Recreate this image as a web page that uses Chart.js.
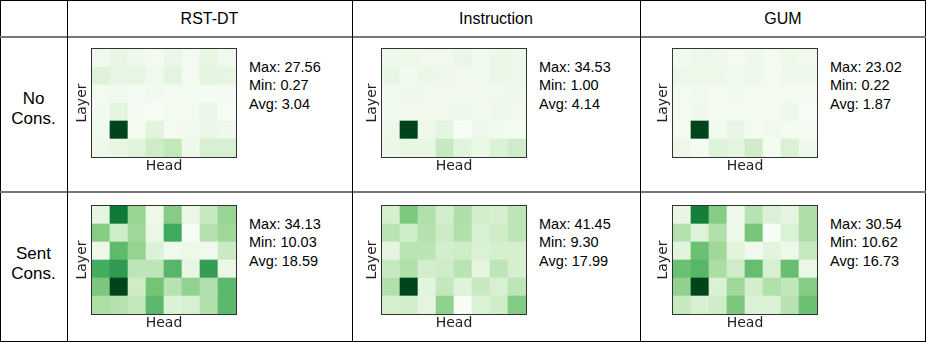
<!DOCTYPE html>
<html>
<head>
<meta charset="utf-8">
<script src="https://cdn.jsdelivr.net/npm/chart.js@4.4.1/dist/chart.umd.min.js"></script>
<style>
  body { margin: 0; background: #fff; font-family: "Liberation Sans", Arial, sans-serif; color: #000; }
  #page { position: relative; width: 927px; height: 343px; overflow: hidden; }
  .hline { position: absolute; left: 0; width: 926px; height: 2px; background: #777; }
  .vline { position: absolute; top: 0; width: 1px; height: 342px; background: #000; }
  .colhead { position: absolute; top: 9px; font-size: 16px; line-height: 20px; text-align: center; }
  .rowhead { position: absolute; left: 0; width: 67px; font-size: 17px; line-height: 20px; text-align: center; }
  .stats { position: absolute; font-size: 14.5px; line-height: 18.3px; white-space: pre; }
  canvas { position: absolute; }
</style>
</head>
<body>
<div id="page"></div>
<script>
// table labels
const columns = ['RST-DT', 'Instruction', 'GUM'];
const rowsTop = ['No', 'Sent'];

const heads = ['1', '2', '3', '4', '5', '6', '7', '8'];
const layers = ['1', '2', '3', '4', '5', '6'];

// stats shown next to each map
const noConsMax = ['27.56', '34.53', '23.02'];
const noConsMin = ['0.27', '1.00', '0.22'];
const noConsAvg = ['3.04', '4.14', '1.87'];
const sentConsMax = ['34.13', '41.45', '30.54'];
const sentConsMin = ['10.03', '9.30', '10.62'];
const sentConsAvg = ['18.59', '17.99', '16.73'];

// attention maps, top layer row first
const rstNoCons = [
  [1.6, 3.0, 1.9, 1.1, 2.5, 1.1, 3.3, 1.6],
  [4.6, 3.3, 3.3, 1.6, 3.8, 1.1, 3.8, 3.3],
  [1.1, 1.6, 0.8, 1.4, 1.1, 0.8, 0.8, 0.8],
  [1.4, 3.8, 0.8, 0.27, 1.1, 1.1, 2.7, 0.5],
  [1.6, 27.56, 1.1, 4.1, 1.1, 1.6, 2.5, 1.9],
  [2.2, 3.0, 4.1, 6.3, 7.6, 1.9, 5.2, 5.2]
];
const instrNoCons = [
  [3.0, 3.3, 2.7, 2.7, 4.0, 2.3, 3.7, 3.3],
  [4.4, 2.3, 3.7, 3.0, 2.7, 2.3, 3.7, 3.3],
  [2.3, 3.0, 2.7, 2.7, 2.7, 2.7, 2.7, 3.0],
  [2.3, 2.7, 2.7, 2.7, 3.0, 2.7, 3.3, 2.7],
  [3.3, 34.53, 3.0, 5.0, 1.0, 3.0, 2.3, 1.7],
  [3.7, 4.4, 4.4, 9.4, 5.7, 3.7, 6.4, 8.4]
];
const gumNoCons = [
  [1.1, 2.0, 1.6, 0.9, 1.8, 0.9, 1.8, 1.4],
  [2.0, 1.8, 1.8, 1.4, 1.8, 0.9, 1.6, 1.6],
  [0.9, 1.1, 0.9, 1.1, 0.9, 0.9, 0.7, 0.7],
  [0.9, 1.6, 0.9, 0.7, 0.9, 0.9, 1.8, 0.22],
  [0.7, 23.02, 1.1, 2.5, 0.9, 1.1, 0.9, 0.9],
  [1.8, 0.7, 3.6, 3.2, 5.2, 0.7, 4.1, 1.6]
];
const rstSentCons = [
  [12.9, 29.8, 19.7, 11.7, 20.9, 12.2, 16.1, 19.7],
  [20.9, 15.3, 19.2, 12.2, 25.2, 10.03, 17.5, 19.2],
  [11.7, 23.3, 19.9, 13.9, 11.2, 11.9, 11.2, 15.8],
  [25.0, 26.7, 16.8, 16.8, 23.8, 12.4, 26.4, 12.2],
  [21.6, 34.13, 15.3, 22.1, 17.3, 20.1, 17.7, 23.5],
  [18.2, 17.5, 16.3, 23.5, 13.9, 14.4, 17.7, 23.5]
];
const instrSentCons = [
  [15.4, 24.7, 19.6, 15.7, 19.9, 15.7, 15.4, 18.3],
  [18.6, 16.4, 19.3, 16.7, 19.6, 15.1, 16.4, 18.3],
  [13.2, 18.6, 18.6, 15.7, 16.4, 14.8, 15.4, 15.4],
  [17.3, 19.6, 15.7, 16.4, 18.9, 13.5, 18.3, 15.4],
  [19.6, 41.45, 13.8, 17.7, 14.1, 17.3, 15.1, 18.3],
  [15.4, 15.7, 13.5, 22.8, 9.30, 14.8, 16.1, 24.1]
];
const gumSentCons = [
  [12.6, 26.6, 19.6, 12.0, 16.6, 14.0, 13.0, 17.2],
  [16.8, 13.8, 17.0, 12.2, 20.4, 10.62, 14.0, 17.2],
  [13.4, 21.0, 18.2, 13.4, 11.6, 13.4, 12.2, 15.6],
  [21.0, 22.0, 17.4, 15.0, 21.2, 14.2, 21.2, 12.4],
  [19.0, 30.54, 14.0, 18.2, 14.6, 17.0, 16.0, 19.6],
  [15.6, 14.2, 15.0, 20.2, 14.0, 14.0, 16.6, 21.0]
];

// matplotlib "Greens"
const greenStops = [
  [247, 252, 245], [229, 245, 224], [199, 233, 192], [161, 217, 155], [116, 196, 118],
  [65, 171, 93], [35, 139, 69], [0, 109, 44], [0, 68, 27]
];
function greens(t) {
  t = Math.max(0, Math.min(1, t));
  const p = t * (greenStops.length - 1);
  const i = Math.min(Math.floor(p), greenStops.length - 2);
  const f = p - i;
  const a = greenStops[i], b = greenStops[i + 1];
  const c = a.map((v, k) => Math.round(v + (b[k] - v) * f));
  return 'rgb(' + c.join(',') + ')';
}

const page = document.getElementById('page');
function addDiv(cls, css, text) {
  const d = document.createElement('div');
  d.className = cls;
  Object.assign(d.style, css);
  if (text !== undefined) d.textContent = text;
  page.appendChild(d);
  return d;
}

// table frame
addDiv('', { position: 'absolute', left: '0px', top: '0px', width: '926px', height: '342px', boxSizing: 'border-box', border: '1px solid #000' });
addDiv('hline', { top: '36px' });
addDiv('hline', { top: '191px' });
[67, 352, 640].forEach(x => addDiv('vline', { left: x + 'px' }));

const colSpans = [[67, 352], [352, 640], [640, 926]];
columns.forEach((c, i) => {
  addDiv('colhead', { left: colSpans[i][0] + 'px', width: (colSpans[i][1] - colSpans[i][0]) + 'px' }, c);
});
addDiv('rowhead', { top: '89px' }).innerHTML = rowsTop[0] + '<br>Cons.';
addDiv('rowhead', { top: '244px' }).innerHTML = rowsTop[1] + '<br>Cons.';

const frame = {
  id: 'frame',
  afterDraw(chart) {
    const a = chart.chartArea;
    const ctx = chart.ctx;
    ctx.save();
    ctx.strokeStyle = '#333';
    ctx.lineWidth = 1;
    ctx.strokeRect(Math.round(a.left) - 0.5, Math.round(a.top) - 0.5, Math.round(a.right - a.left) + 1, Math.round(a.bottom - a.top) + 1);
    ctx.restore();
  }
};

function heatmap(left, top, grid) {
  const flat = grid.flat();
  const lo = Math.min(...flat), hi = Math.max(...flat);
  const cv = document.createElement('canvas');
  cv.width = 163; cv.height = 127;
  cv.style.left = (left - 18) + 'px';
  cv.style.top = (top - 1) + 'px';
  cv.style.width = '163px'; cv.style.height = '127px';
  page.appendChild(cv);
  const datasets = layers.map((_, i) => {
    const row = grid[layers.length - 1 - i];
    return {
      data: heads.map(() => 1),
      backgroundColor: row.map(v => greens((v - lo) / (hi - lo))),
      borderWidth: 0,
      barPercentage: 1,
      categoryPercentage: 1
    };
  });
  new Chart(cv.getContext('2d'), {
    type: 'bar',
    data: { labels: heads, datasets: datasets },
    options: {
      responsive: false,
      animation: false,
      devicePixelRatio: 1,
      layout: { padding: { top: 1, right: 1, left: 0, bottom: 0 } },
      plugins: { legend: { display: false }, tooltip: { enabled: false } },
      scales: {
        x: {
          stacked: true,
          grid: { display: false, drawTicks: false },
          border: { display: false },
          ticks: { display: false },
          title: { display: true, text: 'Head', color: '#222', font: { family: 'DejaVu Sans', size: 14 }, padding: { top: 1.2, bottom: 0 } }
        },
        y: {
          stacked: true, min: 0, max: 6,
          grid: { display: false, drawTicks: false },
          border: { display: false },
          ticks: { display: false },
          title: { display: true, text: 'Layer', color: '#222', font: { family: 'DejaVu Sans', size: 14 }, padding: { top: 0, bottom: 1.2 } }
        }
      }
    },
    plugins: [frame]
  });
}

function stats(left, top, mx, mn, av) {
  addDiv('stats', { left: left + 'px', top: top + 'px' }, 'Max: ' + mx + '\nMin: ' + mn + '\nAvg: ' + av);
}

const mapLefts = [92, 382, 673];
const noConsMaps = [rstNoCons, instrNoCons, gumNoCons];
const sentConsMaps = [rstSentCons, instrSentCons, gumSentCons];
mapLefts.forEach((x, i) => {
  heatmap(x, 49, noConsMaps[i]);
  stats(x + 157, 58, noConsMax[i], noConsMin[i], noConsAvg[i]);
  heatmap(x, 206, sentConsMaps[i]);
  stats(x + 157, 215, sentConsMax[i], sentConsMin[i], sentConsAvg[i]);
});
</script>
</body>
</html>
